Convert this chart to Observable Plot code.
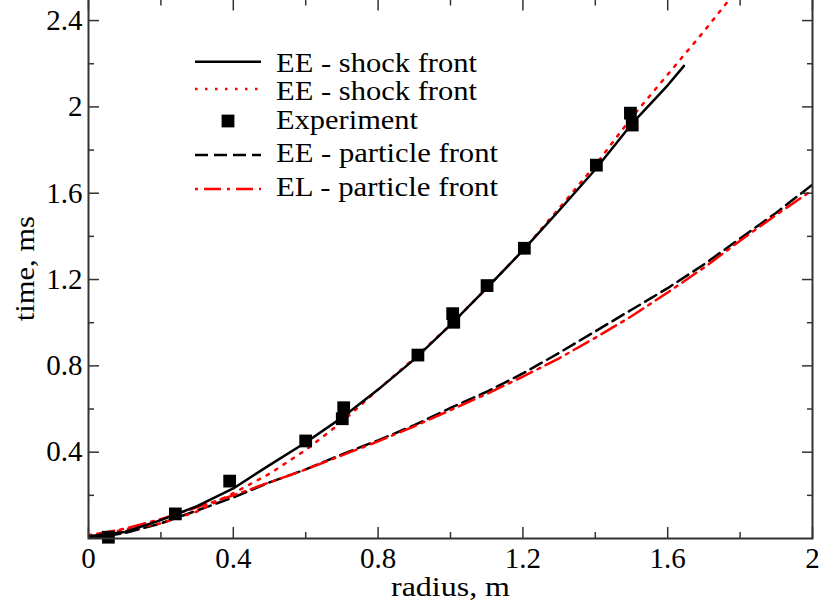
<!DOCTYPE html>
<html><head><meta charset="utf-8">
<script src="https://cdn.jsdelivr.net/npm/d3@7"></script>
<script src="https://cdn.jsdelivr.net/npm/@observablehq/plot@0.6"></script>
<style>
html,body{margin:0;padding:0;background:#fff;overflow:hidden;}
#wrap{position:relative;width:824px;height:604px;overflow:hidden;background:#fff;}
#chart{position:absolute;left:0;top:-6px;}
#legend{position:absolute;left:0;top:0;}
</style></head><body>
<div id="wrap"><div id="chart"></div><svg id="legend" width="824" height="604"></svg></div>
<script>
// ---- data (radius in m, time in ms) ----
const eeShockR = [0, 0.1, 0.2, 0.3, 0.4, 0.5, 0.6, 0.7, 0.8, 0.9, 1.0, 1.1, 1.2, 1.3, 1.4, 1.5, 1.6, 1.645];
const eeShockT = [0.01, 0.03, 0.085, 0.15, 0.232, 0.34, 0.445, 0.56, 0.69, 0.83, 0.99, 1.16, 1.335, 1.52, 1.71, 1.92, 2.10, 2.19];

const eeShock2R = [0, 0.1, 0.2, 0.3, 0.4, 0.5, 0.6, 0.7, 0.8, 0.9, 1.0, 1.1, 1.2, 1.3, 1.4, 1.5, 1.6, 1.7, 1.8];
const eeShock2T = [0.01, 0.04, 0.07, 0.125, 0.21, 0.30, 0.41, 0.54, 0.69, 0.835, 0.99, 1.16, 1.335, 1.53, 1.73, 1.95, 2.15, 2.35, 2.56];

const expR = [0.055, 0.240, 0.390, 0.600, 0.701, 0.705, 0.910, 1.006, 1.009, 1.101, 1.204, 1.403, 1.497, 1.502];
const expT = [0.006, 0.114, 0.266, 0.452, 0.555, 0.606, 0.850, 1.042, 1.002, 1.172, 1.345, 1.730, 1.971, 1.916];

const eePartR = [0, 0.1, 0.2, 0.3, 0.4, 0.5, 0.6, 0.7, 0.8, 0.9, 1.0, 1.1, 1.2, 1.3, 1.4, 1.5, 1.6, 1.7, 1.8, 1.9, 2.0];
const eePartT = [0.0, 0.025, 0.07, 0.13, 0.19, 0.26, 0.32, 0.39, 0.455, 0.525, 0.605, 0.68, 0.765, 0.86, 0.96, 1.06, 1.16, 1.27, 1.39, 1.51, 1.64];

const elPartR = [0, 0.1, 0.2, 0.3, 0.4, 0.5, 0.6, 0.7, 0.8, 0.9, 1.0, 1.1, 1.2, 1.3, 1.4, 1.5, 1.6, 1.7, 1.8, 1.9, 2.0];
const elPartT = [0.015, 0.045, 0.09, 0.145, 0.20, 0.26, 0.32, 0.385, 0.45, 0.52, 0.595, 0.67, 0.75, 0.835, 0.93, 1.03, 1.14, 1.255, 1.38, 1.50, 1.615];

const xMajor = [0, 0.4, 0.8, 1.2, 1.6, 2];
const xMinor = [0.2, 0.6, 1.0, 1.4, 1.8];
const yMajor = [0.4, 0.8, 1.2, 1.6, 2, 2.4];
const yMinor = [0.2, 0.6, 1.0, 1.4, 1.8, 2.2];

const xTitle = "radius, m";
const yTitle = "time, ms";
const legendLabels = ["EE - shock front", "EE - shock front", "Experiment", "EE - particle front", "EL - particle front"];

// ---- build ----
const rows = (xs, ys) => xs.map((x, i) => ({x, y: ys[i]}));
const FONT = "'Liberation Serif', serif";
const axisCol = "#333";
const fmt = d3.format("~g");

const styles = {
  eeShock: {stroke: "#000", strokeWidth: 2.5},
  eeShock2: {stroke: "#ff0000", strokeWidth: 2.5, strokeDasharray: "2.5,7.5"},
  eePart: {stroke: "#000", strokeWidth: 2.5, strokeDasharray: "13,6"},
  elPart: {stroke: "#ff0000", strokeWidth: 2.5, strokeDasharray: "3,6,17,6"}
};
const tickOpts = {tickFormat: () => "", label: null, stroke: axisCol, strokeWidth: 1.5};

const chart = Plot.plot({
  width: 824, height: 610,
  marginLeft: 88, marginRight: 12, marginTop: 4.5, marginBottom: 66,
  style: "font-family: 'Liberation Serif', serif; font-size: 29px; color: #000; background: transparent; overflow: visible;",
  x: {domain: [0, 2], label: null},
  y: {domain: [0, 2.5], label: null},
  marks: [
    Plot.line(rows(eePartR, eePartT), {x: "x", y: "y", ...styles.eePart, clip: true}),
    Plot.line(rows(elPartR, elPartT), {x: "x", y: "y", ...styles.elPart, clip: true}),
    Plot.line(rows(eeShock2R, eeShock2T), {x: "x", y: "y", ...styles.eeShock2, clip: true}),
    Plot.line(rows(eeShockR, eeShockT), {x: "x", y: "y", ...styles.eeShock, clip: true}),
    Plot.dot(rows(expR, expT), {x: "x", y: "y", symbol: "square", r: 7.2, fill: "#000", stroke: null}),
    Plot.frame({stroke: axisCol, strokeWidth: 2}),
    // tick labels
    Plot.axisX(xMajor, {anchor: "bottom", tickSize: 0, tickPadding: 9, label: null, tickFormat: fmt, fontSize: 29}),
    Plot.axisY(yMajor, {anchor: "left", tickSize: 0, tickPadding: 6, label: null, tickFormat: fmt, fontSize: 29}),
    // inward ticks on all sides
    Plot.axisX(xMajor, {anchor: "bottom", tickSize: -11, ...tickOpts}),
    Plot.axisX(xMinor, {anchor: "bottom", tickSize: -6, ...tickOpts}),
    Plot.axisX(xMajor, {anchor: "top", tickSize: -11, ...tickOpts}),
    Plot.axisX(xMinor, {anchor: "top", tickSize: -6, ...tickOpts}),
    Plot.axisY(yMajor, {anchor: "left", tickSize: -11, ...tickOpts}),
    Plot.axisY(yMinor, {anchor: "left", tickSize: -6, ...tickOpts}),
    Plot.axisY(yMajor, {anchor: "right", tickSize: -11, ...tickOpts}),
    Plot.axisY(yMinor, {anchor: "right", tickSize: -6, ...tickOpts}),
    // axis titles
    Plot.text([xTitle], {text: d => d, frameAnchor: "bottom", textAnchor: "middle", dy: 57, lineAnchor: "bottom", fontSize: 27}),
    Plot.text([yTitle], {text: d => d, frameAnchor: "left", textAnchor: "middle", rotate: -90, dx: -63, lineAnchor: "middle", fontSize: 27})
  ]
});
d3.select(chart).selectAll("text").style("font-family", FONT);
d3.select(chart).selectAll("text").each(function () {
  const t = this.textContent;
  if (t === xTitle) d3.select(this).attr("textLength", 119).attr("lengthAdjust", "spacingAndGlyphs");
  if (t === yTitle) d3.select(this).attr("textLength", 105).attr("lengthAdjust", "spacingAndGlyphs");
});
document.getElementById("chart").appendChild(chart);

// ---- legend ----
const lg = d3.select("#legend");
const legendRows = [
  {kind: "eeShock", cy: 61.7, base: 71.7, len: 201},
  {kind: "eeShock2", cy: 89, base: 100, len: 201},
  {kind: "exp", cy: 121, base: 128.5, len: 142},
  {kind: "eePart", cy: 155, base: 162, len: 222},
  {kind: "elPart", cy: 189, base: 195.5, len: 222}
];
legendRows.forEach((r, i) => {
  if (r.kind === "exp") {
    lg.append("rect").attr("x", 228 - 6.4).attr("y", r.cy - 6.4).attr("width", 12.8).attr("height", 12.8).attr("fill", "#000");
  } else {
    const s = styles[r.kind];
    lg.append("line").attr("x1", 195).attr("x2", 261).attr("y1", r.cy).attr("y2", r.cy)
      .attr("stroke", s.stroke).attr("stroke-width", s.strokeWidth)
      .attr("stroke-dasharray", s.strokeDasharray || null);
  }
  lg.append("text").attr("x", 276).attr("y", r.base)
    .style("font-family", FONT).style("font-size", "27px")
    .attr("textLength", r.len).attr("lengthAdjust", "spacingAndGlyphs")
    .text(legendLabels[i]);
});
</script>
</body></html>
